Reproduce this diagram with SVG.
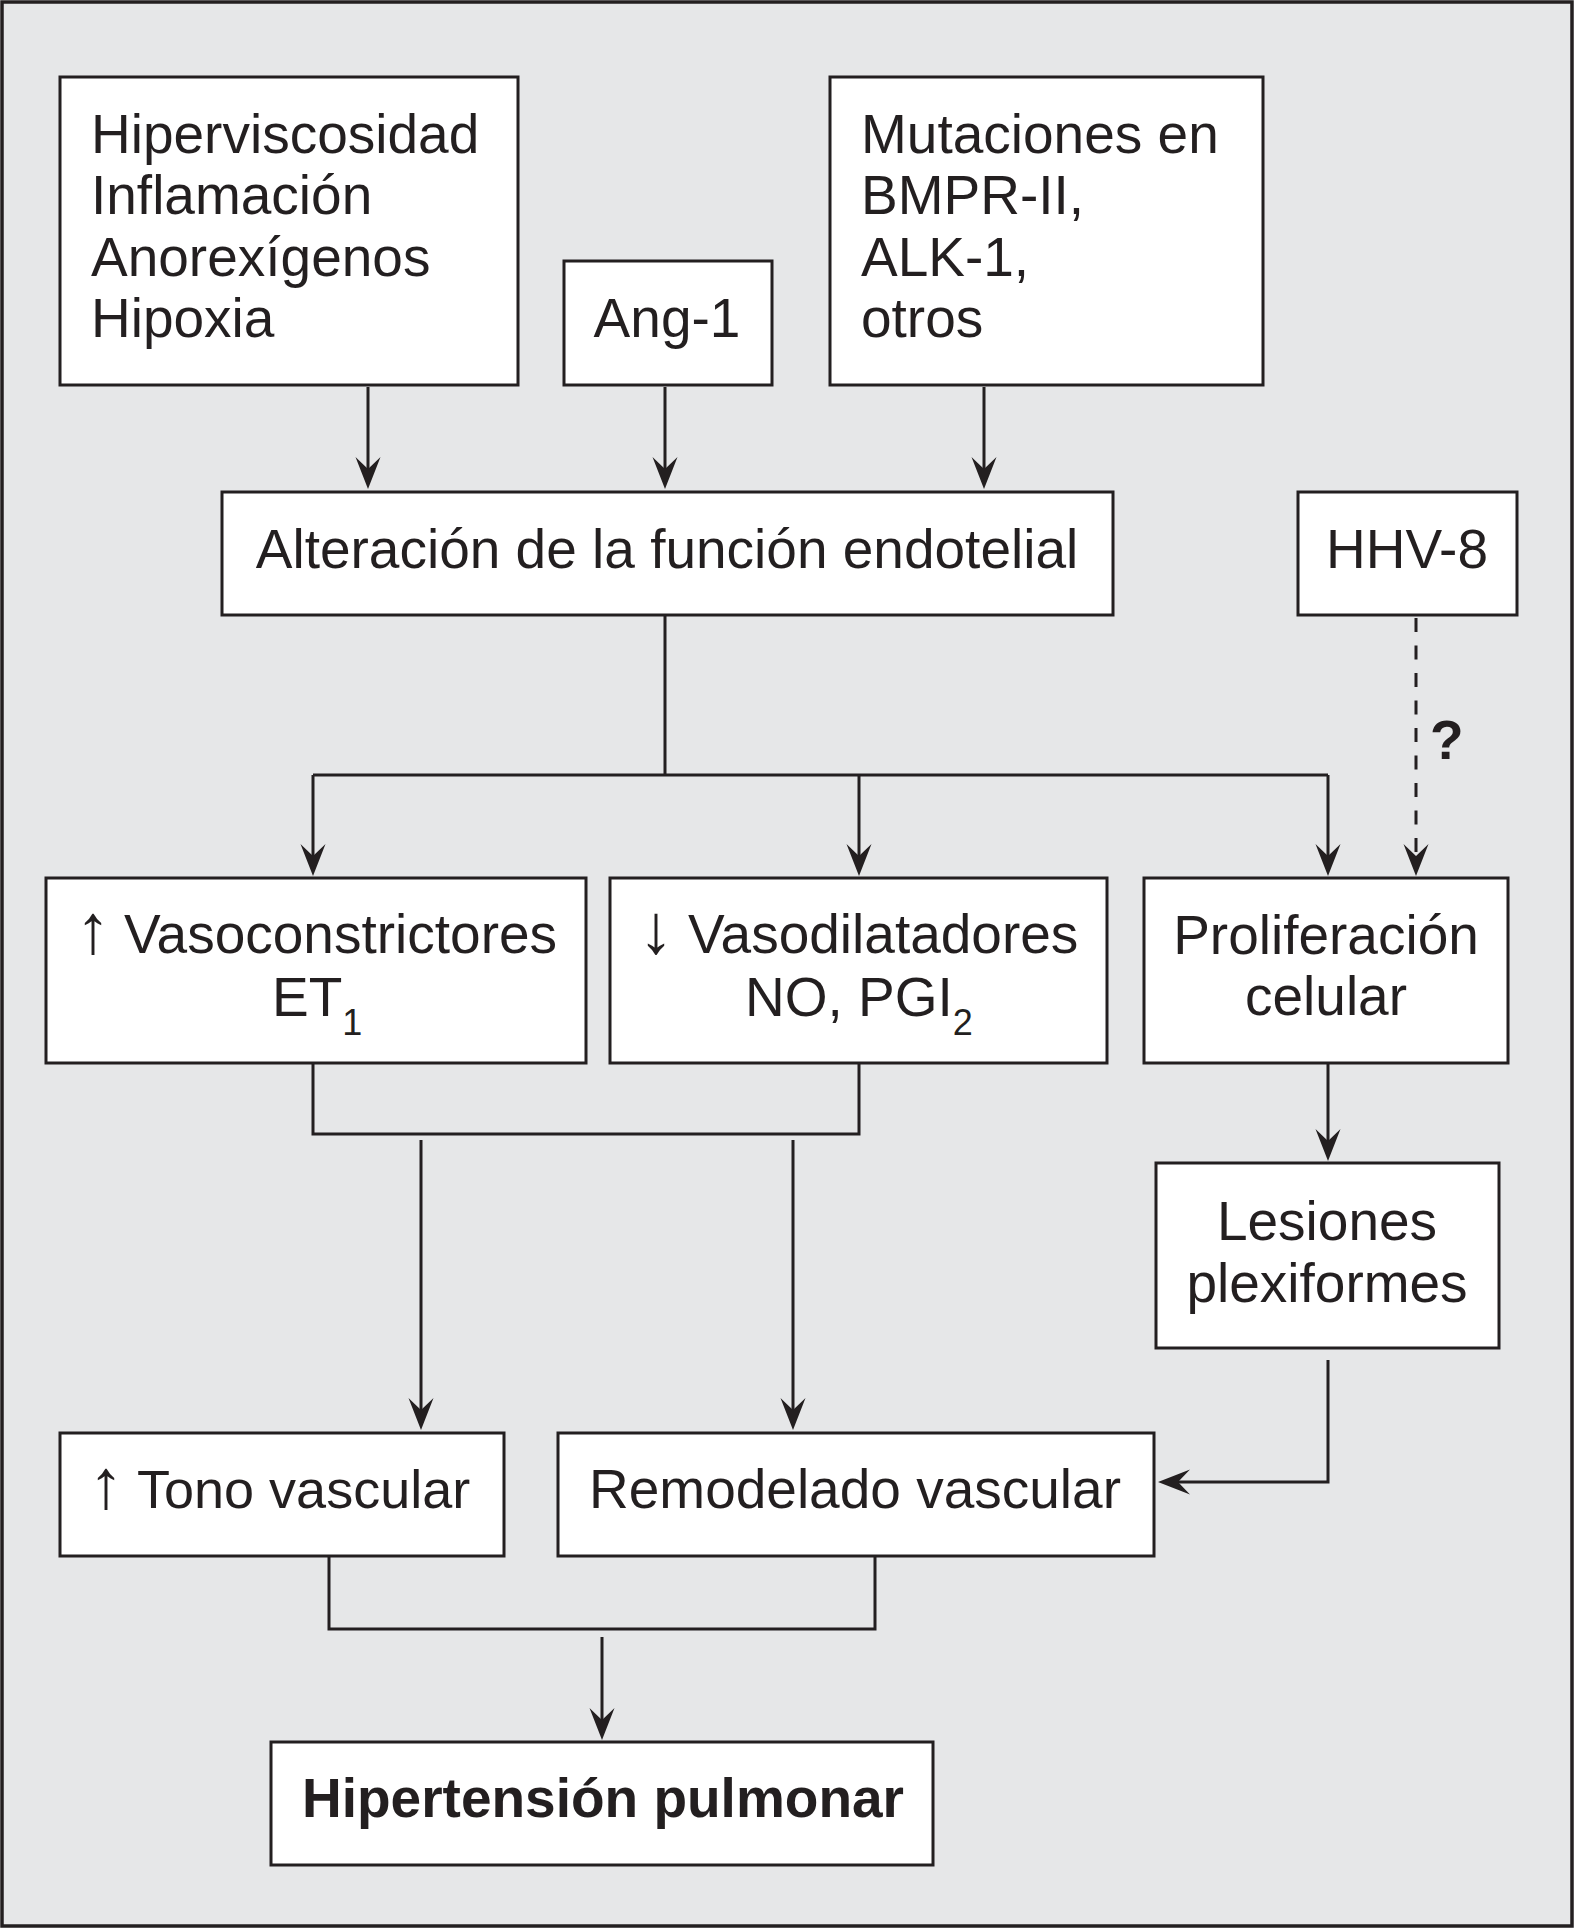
<svg xmlns="http://www.w3.org/2000/svg" width="1575" height="1930" viewBox="0 0 1575 1930">
<style>
.box{fill:#ffffff;stroke:#231f20;stroke-width:3}
.t{font-family:"Liberation Sans",Arial,Helvetica,sans-serif;font-size:55px;fill:#231f20}
.ar{font-family:"Liberation Sans",Arial,sans-serif;font-size:70px;fill:#231f20;text-anchor:middle}
.m{text-anchor:middle}
.b{font-weight:bold}
.sub{font-size:36px}
.c{fill:none;stroke:#231f20;stroke-width:3}
.a{marker-end:url(#ah)}
.d{stroke-dasharray:14 13.5}
</style>
<defs>
<marker id="ah" viewBox="-33 -13 34 26" refX="-20" refY="0" markerWidth="34" markerHeight="26" markerUnits="userSpaceOnUse" orient="auto">
<path d="M0,0 L-32,-12.5 L-20,0 L-32,12.5 Z" fill="#231f20"/>
</marker>
</defs>
<rect x="2" y="2" width="1570" height="1924" fill="#e6e7e8" stroke="#231f20" stroke-width="3.5"/>

<g id="connectors">
<path class="c a" d="M368,387 V469"/>
<path class="c a" d="M665,387 V469"/>
<path class="c a" d="M984,387 V469"/>
<path class="c" d="M665,615 V775 M313,775 H1328"/>
<path class="c a" d="M313,775 V856"/>
<path class="c a" d="M859,775 V856"/>
<path class="c a" d="M1328,775 V856"/>
<path class="c d a" d="M1416,618 V856"/>
<path class="c" d="M313,1063 V1134 H859 V1063"/>
<path class="c a" d="M421,1140 V1410"/>
<path class="c a" d="M793,1140 V1410"/>
<path class="c a" d="M1328,1063 V1141"/>
<path class="c a" d="M1328,1360 V1482 H1178"/>
<path class="c" d="M329,1556 V1629 H875 V1556"/>
<path class="c a" d="M602,1637 V1720"/>
<text class="t b" x="1430" y="759">?</text>
</g>

<g id="n-hiperviscosidad">
<rect class="box" x="60" y="77" width="458" height="308"/>
<text class="t" x="91" y="153">Hiperviscosidad</text>
<text class="t" x="91" y="214">Inflamación</text>
<text class="t" x="91" y="276">Anorexígenos</text>
<text class="t" x="91" y="337">Hipoxia</text>
</g>
<g id="n-ang1">
<rect class="box" x="564" y="261" width="208" height="124"/>
<text class="t m" x="667" y="337">Ang-1</text>
</g>
<g id="n-mutaciones">
<rect class="box" x="830" y="77" width="433" height="308"/>
<text class="t" x="861" y="153">Mutaciones en</text>
<text class="t" x="861" y="214">BMPR-II,</text>
<text class="t" x="861" y="276">ALK-1,</text>
<text class="t" x="861" y="337">otros</text>
</g>
<g id="n-alteracion">
<rect class="box" x="222" y="492" width="891" height="123"/>
<text class="t m" x="667" y="568">Alteración de la función endotelial</text>
</g>
<g id="n-hhv8">
<rect class="box" x="1298" y="492" width="219" height="123"/>
<text class="t m" x="1407" y="568">HHV-8</text>
</g>
<g id="n-vasoconstrictores">
<rect class="box" x="46" y="878" width="540" height="185"/>
<text class="ar" x="93" y="953">↑</text>
<text class="t" x="124" y="953">Vasoconstrictores</text>
<text class="t" x="272" y="1016">ET<tspan class="sub" dy="19">1</tspan></text>
</g>
<g id="n-vasodilatadores">
<rect class="box" x="610" y="878" width="497" height="185"/>
<text class="ar" x="656" y="953">↓</text>
<text class="t" x="688" y="953">Vasodilatadores</text>
<text class="t" x="745" y="1016">NO, PGI<tspan class="sub" dy="19">2</tspan></text>
</g>
<g id="n-proliferacion">
<rect class="box" x="1144" y="878" width="364" height="185"/>
<text class="t m" x="1326" y="954">Proliferación</text>
<text class="t m" x="1326" y="1015">celular</text>
</g>
<g id="n-lesiones">
<rect class="box" x="1156" y="1163" width="343" height="185"/>
<text class="t m" x="1327" y="1240">Lesiones</text>
<text class="t m" x="1327" y="1302">plexiformes</text>
</g>
<g id="n-tono">
<rect class="box" x="60" y="1433" width="444" height="123"/>
<text class="ar" x="106" y="1508">↑</text>
<text class="t" x="137" y="1508" style="font-size:54px">Tono vascular</text>
</g>
<g id="n-remodelado">
<rect class="box" x="558" y="1433" width="596" height="123"/>
<text class="t m" x="855" y="1508">Remodelado vascular</text>
</g>
<g id="n-hipertension">
<rect class="box" x="271" y="1742" width="662" height="123"/>
<text class="t m b" x="603" y="1817">Hipertensión pulmonar</text>
</g>
</svg>
